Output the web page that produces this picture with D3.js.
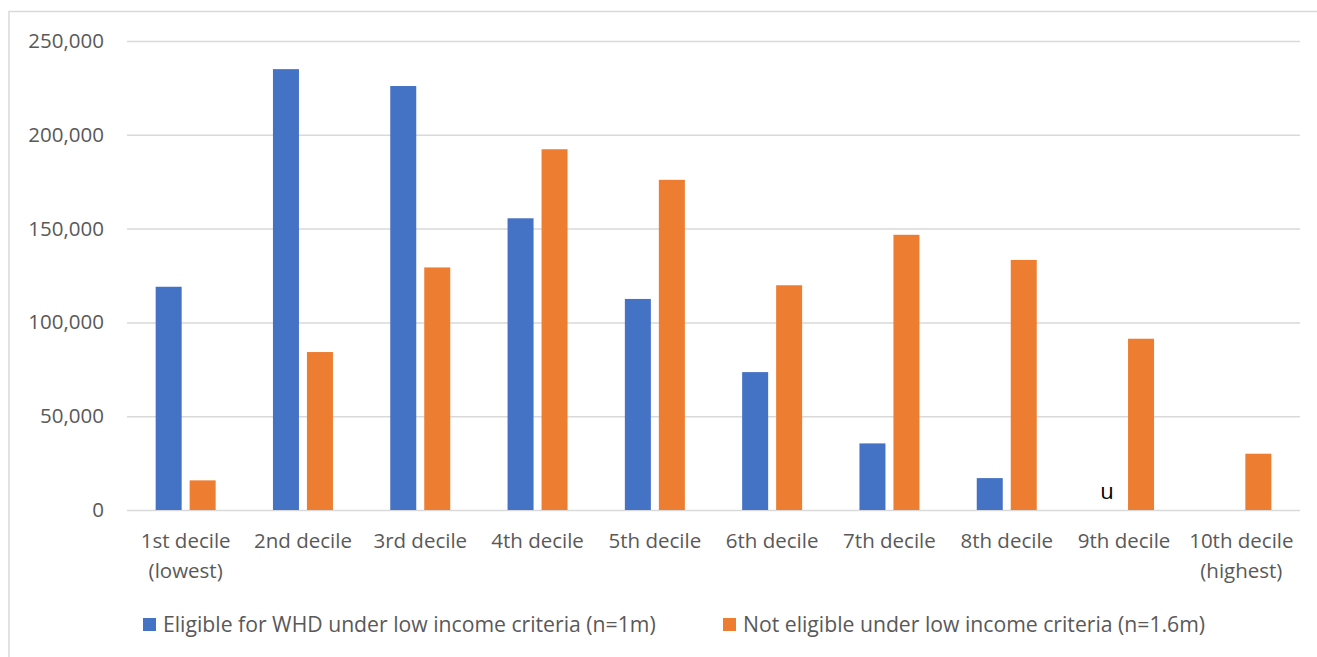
<!DOCTYPE html>
<html><head><meta charset="utf-8">
<script src="https://cdn.jsdelivr.net/npm/d3@7"></script>
<style>
html,body{margin:0;padding:0;background:#fff;}
svg{display:block;font-family:"Open Sans",sans-serif;}
</style></head>
<body>
<svg id="chart" width="1317" height="657"></svg>
<script>
const categories = [["1st decile","(lowest)"],["2nd decile"],["3rd decile"],["4th decile"],["5th decile"],["6th decile"],["7th decile"],["8th decile"],["9th decile"],["10th decile","(highest)"]];
const seriesNames = ["Eligible for WHD under low income criteria (n=1m)","Not eligible under low income criteria (n=1.6m)"];
const eligible = [119000,235000,226000,155500,112500,73500,35500,17000,null,null];
const notEligible = [15800,84200,129300,192300,176000,119800,146700,133300,91300,30000];
const barLabels = [null,null,null,null,null,null,null,null,"u",null];
const yTicks = [0,50000,100000,150000,200000,250000];
const colors = ["#4472C4","#ED7D31"];

(function(){
const svg = d3.select("#chart");
svg.append("rect").attr("x",9).attr("y",11.5).attr("width",1330).attr("height",700)
  .attr("fill","none").attr("stroke","#D9D9D9").attr("stroke-width",1.5);

const pL=127, pR=1300, pT=41, pB=510;
const x0 = d3.scaleBand().domain(d3.range(categories.length)).range([pL,pR]).padding(0);
const x1 = d3.scaleBand().domain([0,1]).range([0,60]).paddingInner(0.235);
const y = d3.scaleLinear().domain([0,250000]).range([pB,pT]);

const yAxis = svg.append("g").attr("transform",`translate(${pL},0)`)
  .call(d3.axisLeft(y).tickValues(yTicks).tickFormat(d3.format(",")).tickSize(-(pR-pL)).tickPadding(23));
yAxis.select(".domain").remove();
yAxis.selectAll(".tick line").attr("stroke","#D9D9D9").attr("stroke-width",1.5);
yAxis.selectAll(".tick text").attr("fill","#595959").style("font-size","20.5px").style("font-family","'Open Sans',sans-serif");

const data = [eligible, notEligible];
data.forEach((vals,si)=>{
  svg.append("g").selectAll("rect").data(vals.map((v,i)=>({v,i})).filter(d=>d.v!=null))
    .join("rect")
    .attr("x",d=>x0(d.i)+x0.bandwidth()/2-30+x1(si))
    .attr("width",x1.bandwidth())
    .attr("y",d=>y(d.v))
    .attr("height",d=>y(0)-y(d.v))
    .attr("fill",colors[si]);
});

svg.append("g").selectAll("text").data(barLabels.map((t,i)=>({t,i})).filter(d=>d.t))
  .join("text")
  .attr("x",d=>x0(d.i)+x0.bandwidth()/2-30+x1(0)+x1.bandwidth()/2)
  .attr("y",y(0)-11)
  .attr("text-anchor","middle").attr("fill","#000").style("font-size","22px")
  .text(d=>d.t);

const xl = svg.append("g").selectAll("text").data(categories).join("text")
  .attr("text-anchor","middle").attr("fill","#595959").style("font-size","20.5px")
  .attr("transform",(d,i)=>`translate(${x0(i)+x0.bandwidth()/2},548)`);
xl.selectAll("tspan").data(d=>d).join("tspan")
  .attr("x",0).attr("dy",(d,j)=>j===0?0:30).text(d=>d);

const legendX = [143,723];
const lg = svg.append("g").selectAll("g").data(seriesNames).join("g")
  .attr("transform",(d,i)=>`translate(${legendX[i]},618)`);
lg.append("rect").attr("width",13).attr("height",13).attr("fill",(d,i)=>colors[i]);
lg.append("text").attr("x",20).attr("y",14).attr("fill","#595959").style("font-size","21.2px").text(d=>d);
})();
</script>
</body></html>
